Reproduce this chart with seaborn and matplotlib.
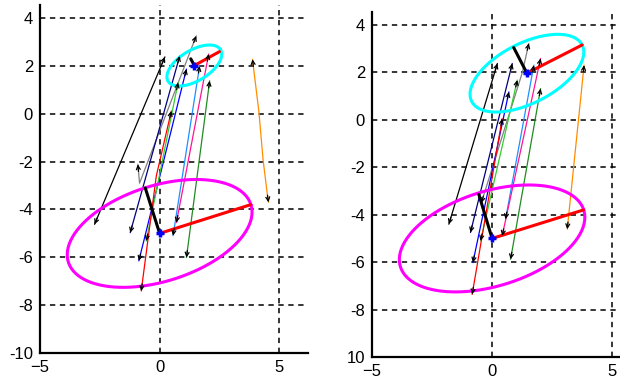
import numpy as np
import pandas as pd
import matplotlib
matplotlib.use("Agg")
import matplotlib.pyplot as plt
import seaborn as sns

# ---- data ----
line_colors = ["black", "gray", "navy", "blue", "limegreen", "red",
               "dodgerblue", "deeppink", "forestgreen", "darkorange"]

# left panel trajectories (x list, y list) in the same order as line_colors
left_x = [[-2.72, 0.22], [-0.91, -0.84, 1.53], [-1.23, 0.84], [-0.87, 1.12],
          [-0.56, 0.77], [-0.77, -0.14, 0.49], [0.56, 1.67], [0.70, 2.05],
          [1.12, 2.09], [4.55, 4.50, 4.32, 4.15, 3.88]]
left_y = [[-4.62, 2.38], [-2.11, -2.90, 3.26], [-4.97, 2.42], [-6.15, 1.87],
          [-5.32, 1.31], [-7.41, -2.60, 0.12], [-5.10, 2.00], [-4.55, 2.50],
          [-6.01, 1.38], [-3.70, -3.36, -1.90, 0.07, 2.28]]

# right panel trajectories
right_x = [[-1.80, 0.22], [-0.45, 1.26, 1.53], [-0.90, 0.84], [-0.80, 0.70],
           [-0.48, 1.05], [-0.83, 0.42], [0.56, 1.74], [0.42, 2.02],
           [0.77, 2.02], [3.13, 3.83]]
right_y = [[-4.40, 2.38], [-3.50, 2.00, 3.23], [-4.75, 2.38], [-6.02, 1.18],
           [-5.10, 1.68], [-7.36, 0.05], [-4.19, 2.31], [-4.89, 2.59],
           [-5.88, 1.32], [-4.61, 2.31]]

# ellipses: centre x, centre y, semi-major, semi-minor, angle (deg)
left_bottom_ell = [0.0, -5.0, 4.0, 2.0, 17.5]
left_top_ell = [1.45, 2.02, 1.28, 0.64, 31.0]
right_bottom_ell = [0.0, -5.0, 4.0, 2.0, 17.5]
right_top_ell = [1.45, 1.97, 2.59, 1.26, 27.6]

# axis end points (major: red, minor: black)
left_major_end = [[3.80, -3.80], [2.50, 2.60]]
left_minor_end = [[-0.60, -3.10], [1.30, 2.30]]
right_major_end = [[3.80, -3.80], [3.75, 3.16]]
right_minor_end = [[-0.55, -3.15], [0.90, 3.05]]

x_ticks = [-5, 0, 5]
y_ticks = [-10, -8, -6, -4, -2, 0, 2, 4]
left_ylabels = ["-10", "-8", "-6", "-4", "-2", "0", "2", "4"]
right_ylabels = ["10", "-8", "-6", "-4", "-2", "0", "2", "4"]

sns.set_style("white")
plt.rcParams["font.family"] = ["Liberation Sans", "DejaVu Sans"]

fig = plt.figure(figsize=(6.2, 3.81), dpi=100)
ax_l = fig.add_axes([40 / 620, 28 / 381, 268 / 620, 348 / 381])
ax_r = fig.add_axes([372 / 620, 24 / 381, 269 / 620, 345 / 381])


def ellipse_df(p):
    t = np.linspace(0, 2 * np.pi, 200)
    a = np.deg2rad(p[4])
    ex = p[0] + p[2] * np.cos(t) * np.cos(a) - p[3] * np.sin(t) * np.sin(a)
    ey = p[1] + p[2] * np.cos(t) * np.sin(a) + p[3] * np.sin(t) * np.cos(a)
    return pd.DataFrame({"x": ex, "y": ey})


def add_head(ax, xs, ys):
    # small black arrow heads at both ends of a trajectory
    for (x0, y0), (x1, y1) in [((xs[-2], ys[-2]), (xs[-1], ys[-1])),
                               ((xs[1], ys[1]), (xs[0], ys[0]))]:
        d = np.hypot(x1 - x0, y1 - y0)
        k = 0.3 / d
        ax.annotate("", xy=(x1, y1), xytext=(x1 - (x1 - x0) * k, y1 - (y1 - y0) * k),
                    arrowprops=dict(arrowstyle="->", color="black", lw=0.9,
                                    shrinkA=0, shrinkB=0, mutation_scale=7))


def draw_panel(ax, xs_all, ys_all, ell_b, ell_t, major, minor, ylabels):
    for c, xs, ys in zip(line_colors, xs_all, ys_all):
        sns.lineplot(x=xs, y=ys, sort=False, estimator=None, color=c, lw=0.9, ax=ax)
        add_head(ax, xs, ys)
    sns.lineplot(data=ellipse_df(ell_b), x="x", y="y", sort=False, estimator=None,
                 color="magenta", lw=2.2, ax=ax)
    sns.lineplot(data=ellipse_df(ell_t), x="x", y="y", sort=False, estimator=None,
                 color="cyan", lw=2.2, ax=ax)
    for ell, m_end, n_end in [(ell_b, major[0], minor[0]), (ell_t, major[1], minor[1])]:
        sns.lineplot(x=[ell[0], m_end[0]], y=[ell[1], m_end[1]], sort=False,
                     estimator=None, color="red", lw=2.2, ax=ax)
        sns.lineplot(x=[ell[0], n_end[0]], y=[ell[1], n_end[1]], sort=False,
                     estimator=None, color="black", lw=2.2, ax=ax)
        ax.plot(ell[0], ell[1], marker="+", color="blue", ms=6, mew=2.5)

    ax.set_xlim(-5, 6.2)
    ax.set_ylim(-10, 4.55)
    ax.set_xticks(x_ticks)
    ax.set_yticks(y_ticks)
    ax.set_yticklabels(ylabels)
    ax.grid(True, color="black", linestyle=(0, (3.5, 3)), lw=1.1)
    ax.set_axisbelow(True)
    for s in ["top", "right"]:
        ax.spines[s].set_visible(False)
    for s in ["left", "bottom"]:
        ax.spines[s].set_color("black")
        ax.spines[s].set_linewidth(1.6)
    ax.tick_params(length=0, labelsize=12, pad=5, colors="black")
    ax.set_xlabel("")
    ax.set_ylabel("")


draw_panel(ax_l, left_x, left_y, left_bottom_ell, left_top_ell,
           left_major_end, left_minor_end, left_ylabels)
draw_panel(ax_r, right_x, right_y, right_bottom_ell, right_top_ell,
           right_major_end, right_minor_end, right_ylabels)

fig.savefig("out.png", dpi=100)
